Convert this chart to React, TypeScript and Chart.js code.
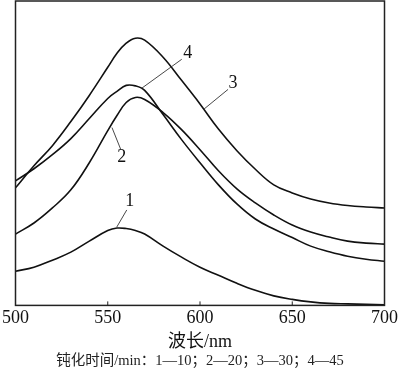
import React, { useEffect, useRef } from "react";
import { Chart, registerables } from "chart.js";

Chart.register(...registerables);

// Wavelength (nm)
const wavelengths = [500, 510, 520, 530, 540, 550, 555, 560, 565, 570, 580, 590, 600, 610, 620, 630, 640, 650, 660, 670, 680, 690, 700];

// Absorbance (arbitrary units) for passivation times 10, 20, 30, 45 min
const curve1 = [0.34, 0.38, 0.45, 0.53, 0.64, 0.745, 0.77, 0.765, 0.745, 0.71, 0.59, 0.48, 0.38, 0.30, 0.22, 0.15, 0.095, 0.06, 0.035, 0.02, 0.015, 0.01, 0.005];
const curve2 = [0.71, 0.82, 0.97, 1.15, 1.42, 1.74, 1.89, 2.02, 2.07, 2.05, 1.92, 1.75, 1.55, 1.34, 1.16, 1.02, 0.90, 0.80, 0.73, 0.68, 0.64, 0.62, 0.61];
const curve3 = [1.17, 1.39, 1.59, 1.83, 2.09, 2.37, 2.51, 2.61, 2.66, 2.64, 2.47, 2.24, 2.005, 1.755, 1.54, 1.355, 1.20, 1.12, 1.06, 1.02, 0.995, 0.98, 0.97];
const curve4 = [1.24, 1.36, 1.50, 1.66, 1.86, 2.06, 2.13, 2.19, 2.185, 2.14, 1.90, 1.65, 1.42, 1.20, 1.01, 0.86, 0.76, 0.675, 0.59, 0.535, 0.49, 0.46, 0.44];

const seriesNames = ["1", "2", "3", "4"];
const xTicks = [500, 550, 600, 650, 700];
const xTitle = "波长/nm";
const caption = "钝化时间/min：1—10；2—20；3—30；4—45";

// Curve label annotations (data coordinates)
const labelX = [561.9, 557.6, 617.9, 593.3];
const labelY = [1.04, 1.47, 2.21, 2.51];
const leaderX1 = [560.3, 557.1, 615.2, 590.1];
const leaderY1 = [0.95, 1.55, 2.15, 2.45];
const leaderX2 = [554.9, 552.3, 601.9, 568.3];
const leaderY2 = [0.78, 1.77, 1.95, 2.16];

const SERIF = "'Liberation Serif', 'Times New Roman', 'Noto Sans CJK SC', serif";

const framePlugin = {
  id: "frameAndLabels",
  afterDatasetsDraw(chart: any) {
    const { ctx, chartArea, scales } = chart;
    const { left, right, top, bottom } = chartArea;
    const x = scales.x;
    const y = scales.y;
    ctx.save();
    ctx.strokeStyle = "#222";
    ctx.lineWidth = 1.5;
    ctx.strokeRect(left, top, right - left, bottom - top);
    ctx.lineWidth = 1;
    for (const v of xTicks) {
      const px = x.getPixelForValue(v);
      ctx.beginPath();
      ctx.moveTo(px, bottom);
      ctx.lineTo(px, bottom - 4);
      ctx.stroke();
    }
    ctx.strokeStyle = "#333";
    ctx.lineWidth = 0.9;
    ctx.fillStyle = "#111";
    ctx.font = `18px ${SERIF}`;
    ctx.textAlign = "center";
    ctx.textBaseline = "middle";
    seriesNames.forEach((name, i) => {
      ctx.beginPath();
      ctx.moveTo(x.getPixelForValue(leaderX1[i]), y.getPixelForValue(leaderY1[i]));
      ctx.lineTo(x.getPixelForValue(leaderX2[i]), y.getPixelForValue(leaderY2[i]));
      ctx.stroke();
      ctx.fillText(name, x.getPixelForValue(labelX[i]), y.getPixelForValue(labelY[i]));
    });
    ctx.restore();
  },
};

export default function App() {
  const ref = useRef<HTMLCanvasElement>(null);
  useEffect(() => {
    if (!ref.current) return;
    const all = [curve1, curve2, curve3, curve4];
    const chart = new Chart(ref.current, {
      type: "line",
      data: {
        datasets: all.map((arr, i) => ({
          label: seriesNames[i],
          data: arr.map((v, j) => ({ x: wavelengths[j], y: v })),
          borderColor: "#111",
          borderWidth: 1.6,
          pointRadius: 0,
          fill: false,
          tension: 0.4,
        })),
      },
      options: {
        animation: false,
        responsive: false,
        maintainAspectRatio: false,
        layout: { padding: { left: 12, right: 12, top: 1, bottom: 0 } },
        scales: {
          x: {
            type: "linear",
            min: 500,
            max: 700,
            afterBuildTicks: (scale: any) => {
              scale.ticks = xTicks.map((v) => ({ value: v }));
            },
            ticks: {
              font: { size: 18, family: SERIF },
              color: "#111",
              padding: 2,
              maxRotation: 0,
              autoSkip: false,
            },
            grid: { display: false, drawTicks: false },
            border: { display: false },
            title: {
              display: true,
              text: xTitle,
              font: { size: 18, family: SERIF },
              color: "#111",
              padding: { top: 0, bottom: 0 },
            },
          },
          y: { display: false, min: 0, max: 3.03 },
        },
        plugins: {
          legend: { display: false },
          tooltip: { enabled: false },
          title: {
            display: true,
            position: "bottom",
            text: caption,
            font: { size: 14.5, family: SERIF, weight: "normal" },
            color: "#222",
            padding: { top: 0, bottom: 2 },
          },
        },
      },
      plugins: [framePlugin],
    });
    return () => chart.destroy();
  }, []);
  return (
    <div style={{ position: "fixed", left: 0, top: 0, width: 400, height: 372, background: "#fff" }}>
      <canvas ref={ref} width={400} height={372} style={{ width: 400, height: 372 }} />
    </div>
  );
}
